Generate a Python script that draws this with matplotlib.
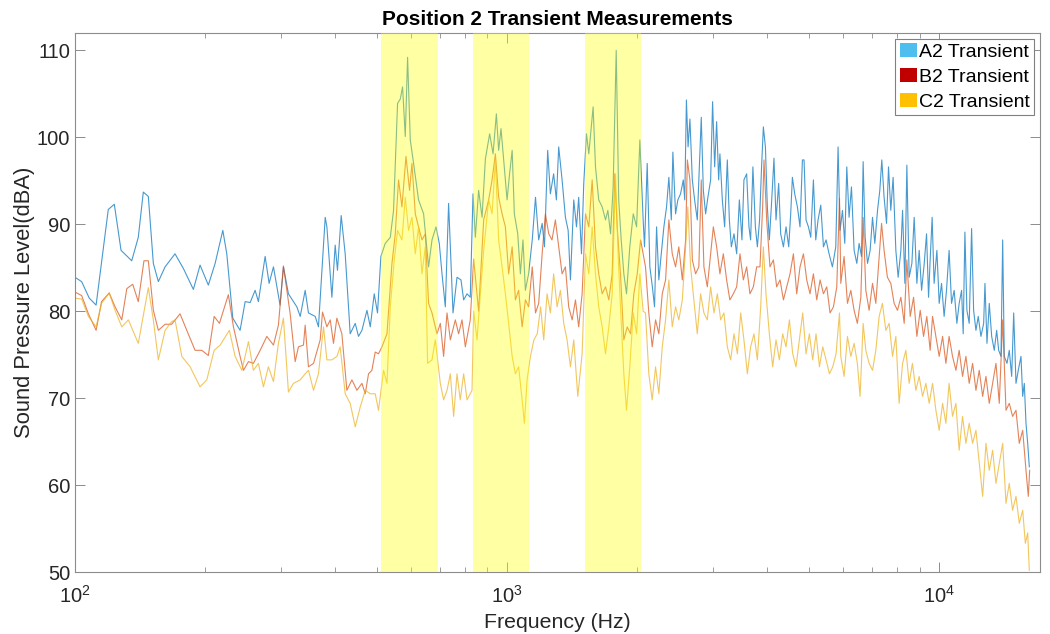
import matplotlib
matplotlib.use("Agg")
import matplotlib.pyplot as plt
from matplotlib.patches import Patch
from matplotlib.ticker import NullLocator

plt.rcParams['font.family'] = ['Liberation Sans', 'DejaVu Sans']
plt.rcParams['mathtext.fontset'] = 'custom'
plt.rcParams['mathtext.rm'] = 'Liberation Sans'
plt.rcParams['mathtext.it'] = 'Liberation Sans:italic'
plt.rcParams['mathtext.bf'] = 'Liberation Sans:bold'
plt.rcParams['mathtext.default'] = 'regular'

# ---------------- data ----------------
title = "Position 2 Transient Measurements"
series_names = ["A2 Transient", "B2 Transient", "C2 Transient"]
highlight_bands_hz = [(510, 690), (832, 1122), (1512, 2040)]

a2_freq = [100, 103.6, 107.9, 111.9, 119.4, 123.3, 127.8, 135.3, 140.1, 143.9,
           147.8, 151.8, 155.9, 161.6, 170.4, 178.2, 187.9, 194.7, 203.5, 211.0,
           219.8, 224.5, 231.8, 241.0, 247.6, 254.3, 261.1, 265.7, 275.4, 281.3,
           287.9, 298.2, 303.6, 311.8, 320.3,
           326.1, 332.0, 340.9, 346.9, 359.6, 365.9, 379.3, 382.7, 393.0, 400.0,
           404.9, 413.0, 421.9, 433.3, 445.1, 452.9, 461.3, 473.8, 482.2, 492.5,
           501.2, 510.3, 522.3, 536.5, 545.9, 557.7, 565.8, 572.8, 581.1, 588.3,
           596.8, 607.4, 623.7, 640.7, 657.9, 670.0, 684.4, 696.6, 706.7, 719.3,
           732.0, 749.4, 765.6, 781.9, 793.1, 807.6, 821.6, 833.7, 844.1, 859.0,
           874.8, 890.4, 910.9,
           927.6, 944.2, 955.7, 967.8, 981.7, 999.6, 1013, 1027, 1039, 1058,
           1073, 1088, 1102, 1121, 1143, 1163, 1183, 1205, 1220, 1241,
           1259, 1281, 1300, 1316, 1340, 1364, 1384, 1401, 1426, 1447,
           1464, 1486, 1504, 1526, 1545, 1581, 1601, 1629, 1659, 1689,
           1710, 1735, 1759, 1788, 1812, 1836, 1862, 1889, 1922, 1958,
           1993, 2028,
           2064, 2079, 2109, 2139, 2168, 2193, 2217, 2244, 2273, 2305,
           2338, 2367, 2398, 2418, 2453, 2483, 2519, 2556, 2576, 2599,
           2622, 2648, 2682, 2715, 2754, 2784, 2813, 2844, 2879, 2914,
           2957, 2988, 3021, 3053, 3086, 3107, 3147, 3186, 3232, 3267,
           3302, 3349, 3397, 3446, 3494, 3531, 3583, 3627, 3659, 3704,
           3753, 3793, 3838, 3879, 3916, 3959, 4000, 4043, 4086, 4144,
           4189, 4249, 4295, 4358, 4419, 4483, 4530, 4571, 4628, 4695,
           4761, 4822, 4864, 4916, 4979, 5041, 5113, 5177, 5241, 5317,
           5394, 5470, 5558, 5657, 5760, 5831, 5894,
           5969, 6043, 6108, 6183, 6262, 6351, 6443, 6523, 6607, 6664,
           6736, 6822, 6917, 7006, 7092, 7195, 7283, 7361, 7451, 7549,
           7629, 7722, 7818, 7933, 8031, 8148, 8222, 8323, 8412, 8516,
           8640, 8747, 8873, 8983, 9099, 9228, 9343, 9443, 9524, 9625,
           9727, 9872, 9994, 10119, 10260, 10391, 10536, 10673, 10823, 10981,
           11116, 11260, 11357, 11461, 11584, 11727, 11878, 12006, 12155, 12305,
           12484, 12665, 12754, 12890, 13050, 13218, 13402, 13575, 13720, 13890,
           14016, 14136, 14341, 14518, 14705, 14863, 15046, 15232, 15452, 15593,
           15728, 15870, 16015, 16153]
a2_spl = [83.9, 83.4, 81.5, 80.7, 91.7, 92.3, 87.0, 85.8, 88.5, 93.7,
          93.2, 85.5, 83.4, 85.1, 86.6, 84.9, 82.5, 85.3, 83.0, 85.5,
          89.3, 86.6, 79.2, 77.8, 81.1, 81.0, 82.4, 81.1, 86.3, 83.2,
          85.1, 80.7, 85.1, 82.0, 81.1,
          80.5, 79.4, 82.4, 79.8, 79.4, 78.2, 90.8, 89.7, 81.6, 87.6,
          84.7, 91.0, 86.6, 77.4, 78.6, 77.1, 77.8, 80.1, 78.2, 82.0,
          79.8, 86.3, 87.8, 88.5, 91.6, 103.9, 104.4, 105.8, 100.1, 109.2,
          99.7, 97.0, 92.8, 91.2, 85.1, 88.2, 89.7, 87.8, 84.3, 80.5,
          92.4, 79.8, 83.9, 83.6, 81.3, 82.0, 81.6, 93.5, 88.5, 93.9,
          90.8, 97.5, 100.4,
          98.1, 102.7, 98.5, 101.0, 97.4, 92.8, 95.8, 98.5, 91.2, 88.9,
          84.3, 88.2, 82.4, 84.3, 88.2, 93.1, 88.2, 90.1, 87.4, 98.5,
          93.5, 95.8, 92.8, 98.9, 95.1, 90.8, 89.3, 83.6, 92.8, 89.7,
          93.1, 86.6, 94.7, 100.4, 98.1, 103.5, 96.6, 92.8, 92.0, 90.5,
          91.6, 88.9, 94.3, 110.0, 92.8, 88.2, 84.3, 82.0, 87.4, 91.2,
          89.7, 99.7,
          90.5, 87.4, 97.0, 85.1, 82.8, 80.5, 89.7, 83.6, 86.6, 89.7,
          92.0, 95.4, 90.5, 98.3, 91.2, 92.8, 93.5, 95.1, 92.8, 104.3,
          98.9, 102.1, 95.1, 92.8, 90.5, 96.6, 102.3, 93.9, 91.2, 93.1,
          95.1, 104.1, 96.6, 101.8, 95.1, 98.1, 92.8, 89.7, 97.4, 90.5,
          87.4, 88.9, 86.6, 92.8, 88.2, 95.1, 95.8, 89.7, 88.2, 96.6,
          89.7, 87.4, 90.5, 96.6, 101.2, 98.9, 92.0, 88.2, 92.0, 97.6,
          90.5, 94.7, 88.9, 87.4, 89.7, 87.4, 91.2, 95.4, 93.5, 92.0,
          89.7, 97.4, 97.4, 90.5, 89.7, 88.5, 95.1, 88.2, 90.5, 92.2,
          87.4, 88.2, 86.6, 85.1, 87.4, 98.9, 89.3,
          91.6, 87.8, 96.6, 90.8, 94.3, 87.0, 85.5, 87.8, 86.3, 97.2,
          88.5, 85.5, 87.0, 90.8, 87.8, 91.6, 93.9, 97.4, 93.1, 90.1,
          96.6, 91.6, 95.4, 87.0, 83.9, 87.0, 91.6, 83.2, 96.8, 83.9,
          85.5, 90.8, 83.2, 87.0, 82.4, 85.5, 88.9, 81.6, 85.9, 90.8,
          83.2, 87.0, 80.9, 83.2, 79.4, 82.4, 87.0, 80.9, 82.4, 78.6,
          80.9, 82.4, 77.4, 89.1, 80.1, 78.6, 89.5, 80.1, 77.8, 79.4,
          77.1, 78.6, 83.2, 76.3, 80.9, 77.1, 75.5, 77.8, 75.5, 74.8,
          88.2, 74.8, 74.0, 75.5, 72.5, 79.8, 71.7, 73.2, 74.8, 70.2,
          71.7, 67.1, 64.8, 62.1]

b2_freq = [100, 103.6, 107.4, 111.9, 115.2, 120.0, 123.8, 128.3, 131.8, 136.0,
           140.1, 144.4, 147.8, 151.8, 155.9, 161.6, 167.4, 175.0, 181.4, 189.6,
           196.5, 203.5, 209.9, 215.9, 226.4, 232.6, 241.0, 245.4, 252.0, 258.7,
           268.2, 277.9, 287.9, 295.6, 303.6, 314.7, 323.2, 328.9,
           337.8, 340.9, 346.9, 356.4, 369.3, 373.9, 382.7, 389.6, 396.4, 403.6,
           414.5, 425.7, 437.3, 449.1, 461.3, 469.5, 477.8, 486.4, 495.1, 503.8,
           513.2, 527.1, 541.3, 550.9, 560.6, 570.9, 583.3, 594.5, 602.2, 612.9,
           623.7, 635.2, 646.5, 657.9, 670.0, 688.1, 700.4, 712.8, 725.9, 738.8,
           758.7, 772.1, 786.3, 800.3, 821.6, 836.5, 859.0, 882.4, 906.1, 922.8,
           939.2, 955.7, 973.3, 990.6, 1008, 1027, 1045, 1063, 1083, 1102,
           1121, 1143, 1163, 1183, 1205, 1226, 1248, 1270, 1293, 1316,
           1340, 1364, 1388, 1414, 1439, 1464, 1491, 1518, 1545, 1573,
           1601, 1629, 1659, 1689, 1719, 1750, 1774, 1797, 1829, 1862,
           1896, 1930, 1964, 2000, 2036,
           2090, 2127, 2166, 2205, 2244, 2285, 2326, 2367, 2410, 2453,
           2496, 2543, 2588, 2612, 2648, 2682, 2729, 2777, 2813, 2853,
           2905, 2957, 3000, 3053, 3107, 3164, 3220, 3276, 3337, 3397,
           3457, 3520, 3583, 3646, 3713, 3779, 3846, 3901, 3929, 3986,
           4056, 4131, 4204, 4280, 4358, 4435, 4514, 4596, 4678, 4761,
           4848, 4934, 5021, 5113, 5205, 5298, 5394, 5490, 5587, 5689,
           5791, 5875,
           5916, 6021, 6130, 6241, 6351, 6462, 6583, 6664, 6760, 6880,
           7006, 7130, 7257, 7351, 7451, 7584, 7722, 7861, 8002, 8148,
           8294, 8412, 8563, 8719, 8873, 9032, 9195, 9356, 9524, 9646,
           9819, 9994, 10177, 10357, 10536, 10730, 10925, 11116, 11318, 11523,
           11727, 11941, 12155, 12371, 12598, 12821, 13050, 13285, 13524, 13765,
           14016, 14265, 14518, 14777, 15046, 15313, 15593, 15870, 16066, 16185]
b2_spl = [82.2, 81.8, 79.7, 77.8, 81.1, 82.1, 80.5, 79.0, 82.6, 83.1,
          81.1, 85.8, 85.8, 80.1, 77.8, 78.5, 78.5, 79.7, 77.8, 75.5,
          75.5, 74.9, 79.4, 78.6, 81.9, 78.2, 74.8, 73.2, 74.2, 74.0,
          75.5, 77.1, 76.1, 78.4, 85.2, 79.7, 74.2, 75.9,
          76.1, 78.4, 73.6, 74.0, 76.7, 79.9, 78.2, 79.0, 76.3, 79.2,
          77.4, 70.9, 72.1, 70.9, 71.7, 70.5, 72.8, 73.2, 75.3, 75.1,
          75.9, 77.4, 85.5, 88.9, 95.1, 92.0, 97.8, 93.9, 97.0, 91.2,
          89.7, 88.2, 88.9, 80.9, 79.8, 77.4, 78.6, 74.8, 79.8, 76.7,
          79.0, 77.4, 79.0, 75.9, 79.0, 86.0, 80.0, 90.5, 92.8, 95.1,
          98.1, 93.1, 91.2, 89.7, 84.3, 87.4, 81.3, 82.4, 78.2, 81.3,
          80.5, 85.1, 79.8, 80.9, 86.6, 91.2, 88.9, 88.2, 90.5, 87.4,
          84.3, 85.1, 80.5, 79.0, 81.3, 78.2, 82.0, 91.2, 89.7, 95.1,
          87.4, 84.3, 82.0, 82.8, 81.3, 84.3, 95.8, 89.7, 84.3, 76.7,
          78.2, 77.4, 82.0, 84.3, 88.2,
          85.1, 79.8, 75.9, 79.0, 77.4, 82.0, 83.6, 90.5, 86.6, 85.1,
          87.4, 83.6, 88.2, 97.4, 95.1, 85.9, 84.3, 85.1, 95.1, 85.1,
          82.8, 86.6, 89.7, 87.4, 84.3, 86.6, 83.6, 81.3, 82.0, 82.8,
          86.6, 83.6, 85.1, 82.0, 82.8, 85.1, 85.1, 92.0, 97.4, 90.5,
          85.1, 85.9, 82.8, 83.6, 81.3, 82.8, 84.3, 86.6, 82.0, 85.1,
          86.6, 83.6, 82.0, 84.3, 81.3, 83.6, 82.0, 82.8, 79.8, 80.5,
          82.8, 93.0,
          83.2, 86.3, 80.9, 82.4, 80.1, 78.6, 81.6, 90.8, 82.4, 80.1,
          83.2, 80.9, 86.3, 90.1, 87.0, 83.9, 83.2, 80.9, 80.1, 81.6,
          78.6, 85.9, 79.4, 81.6, 77.1, 80.1, 77.1, 79.4, 75.5, 79.4,
          77.1, 74.8, 77.1, 74.0, 77.1, 74.8, 73.2, 75.5, 72.5, 74.8,
          71.7, 74.0, 70.9, 73.2, 70.2, 72.5, 69.4, 71.7, 74.0, 69.4,
          79.0, 68.6, 69.4, 67.9, 68.6, 64.8, 66.3, 61.7, 58.7, 61.7]

c2_freq = [100, 103.6, 107.4, 111.9, 115.2, 120.0, 123.8, 128.3, 132.9, 140.1,
           147.8, 151.8, 155.9, 161.6, 167.4, 170.4, 176.7, 184.7, 194.7, 201.8,
           209.9, 216.7, 227.6, 234.7, 243.3, 252.0, 258.7, 265.7, 272.9, 280.2,
           287.9, 295.6, 303.6, 311.8, 320.3,
           332.0, 340.9, 346.9, 356.4, 365.9,
           375.9, 382.7, 393.0, 403.6, 410.8, 421.9, 433.3, 445.1, 457.2, 469.5,
           482.2, 495.1, 503.8, 517.6, 527.1, 536.5, 548.0, 557.7, 570.9, 581.1,
           591.3, 602.2, 612.9, 623.7, 635.2, 646.5, 654.5, 670.0, 681.9, 700.4,
           712.8, 725.9, 738.8, 751.9, 765.6, 778.9, 793.1, 807.6, 829.3, 836.5,
           851.8, 867.0, 882.4, 906.1, 922.8, 939.2, 955.7, 973.3, 990.6, 1008,
           1027, 1045, 1063, 1083, 1096, 1112, 1132, 1153, 1174, 1195,
           1215, 1237, 1259, 1281, 1305, 1328, 1352, 1376, 1401, 1426,
           1457, 1491, 1518, 1545, 1573, 1601, 1629, 1659, 1689, 1719,
           1750, 1781, 1807, 1829, 1862, 1889, 1922, 1958, 1993, 2028,
           2064,
           2090, 2127, 2166, 2205, 2244, 2285, 2326, 2367, 2410, 2453,
           2496, 2543, 2588, 2618, 2658, 2704, 2754, 2803, 2853, 2905,
           2957, 3010, 3065, 3119, 3174, 3232, 3290, 3349, 3410, 3471,
           3531, 3596, 3659, 3725, 3793, 3861, 3916, 3971, 4043, 4115,
           4189, 4265, 4341, 4419, 4499, 4579, 4660, 4745, 4830, 4916,
           5005, 5094, 5185, 5280, 5374, 5470, 5569, 5668, 5769, 5875,
           5916, 6021, 6130, 6241, 6351, 6462, 6556, 6664, 6760, 6880,
           7006, 7130, 7257, 7385, 7521, 7655, 7794, 7933, 8074, 8222,
           8367, 8516, 8665, 8826, 8983, 9146, 9309, 9475, 9646, 9819,
           9994, 10177, 10357, 10536, 10730, 10925, 11116, 11318, 11523, 11727,
           11941, 12155, 12371, 12598, 12821, 13050, 13285, 13524, 13765, 14016,
           14265, 14518, 14777, 15046, 15313, 15593, 15815, 16015, 16153]
c2_spl = [81.5, 81.4, 79.4, 78.2, 80.9, 82.1, 80.1, 78.2, 79.0, 76.3,
          82.7, 79.0, 74.4, 77.8, 78.8, 79.0, 74.8, 73.6, 71.3, 72.1,
          75.5, 76.1, 77.8, 74.8, 73.2, 76.5, 73.2, 74.0, 71.3, 73.6,
          71.9, 76.3, 79.2, 70.7, 71.7,
          72.1, 72.8, 73.2, 70.9, 72.8,
          78.2, 74.4, 74.4, 74.8, 75.9, 70.5, 69.4, 66.7, 69.0, 70.9,
          70.5, 70.5, 68.6, 73.2, 71.7, 80.5, 85.9, 89.3, 88.2, 93.1,
          89.3, 90.8, 86.6, 89.7, 84.3, 87.4, 74.0, 74.4, 76.7, 71.7,
          69.8, 70.9, 72.8, 67.9, 72.8, 69.8, 72.8, 69.8, 70.9, 80.0,
          76.7, 82.0, 87.0, 92.8, 91.2, 97.4, 88.2, 85.1, 82.0, 78.6,
          74.8, 72.8, 73.6, 69.8, 67.1, 72.1, 74.8, 76.7, 77.4, 80.5,
          76.7, 82.0, 79.8, 84.3, 80.5, 82.4, 78.6, 76.7, 73.6, 76.7,
          70.2, 75.1, 86.6, 84.3, 89.7, 84.3, 80.5, 78.2, 75.1, 78.2,
          82.0, 95.8, 86.3, 80.5, 72.8, 68.6, 73.6, 79.8, 77.4, 84.3,
          80.0,
          79.8, 72.8, 69.8, 73.6, 70.5, 75.9, 79.0, 83.6, 78.2, 80.5,
          79.0, 81.3, 87.4, 92.0, 85.1, 81.3, 77.4, 82.0, 79.8, 79.0,
          82.8, 79.8, 82.0, 79.0, 79.8, 75.9, 74.4, 77.4, 75.1, 79.8,
          76.7, 72.8, 75.9, 77.4, 74.4, 80.5, 87.4, 82.0, 77.4, 73.6,
          76.7, 74.4, 77.4, 75.9, 79.0, 75.1, 73.6, 76.7, 79.8, 75.1,
          77.4, 74.4, 77.4, 73.6, 75.9, 74.4, 72.8, 73.6, 75.1, 79.8,
          74.8, 72.5, 77.1, 74.8, 76.3, 74.0, 70.2, 78.6, 75.5, 74.0,
          73.2, 75.5, 79.4, 80.9, 77.8, 78.6, 74.8, 77.1, 69.4, 74.0,
          75.5, 71.7, 74.0, 70.9, 72.5, 70.2, 71.7, 69.4, 71.7, 68.6,
          66.3, 69.4, 67.1, 71.7, 67.9, 69.4, 64.0, 67.9, 64.8, 67.1,
          64.8, 66.3, 62.5, 58.7, 64.8, 61.7, 64.0, 60.2, 62.5, 64.8,
          57.9, 60.2, 57.1, 58.7, 55.6, 57.1, 53.3, 54.5, 50.2]

line_colors = ['#0072BD', '#D95319', '#EDB120']
legend_colors = ['#4DBEEE', '#C00000', '#FFC000']

for nm, f, s in (("A2", a2_freq, a2_spl), ("B2", b2_freq, b2_spl), ("C2", c2_freq, c2_spl)):
    if len(f) != len(s):
        raise ValueError(f"{nm}: {len(f)} freqs vs {len(s)} values")

# ---------------- figure ----------------
W, H = 1050, 634
fig = plt.figure(figsize=(W / 100, H / 100), dpi=100)
ax = fig.add_axes([75 / W, 62 / H, 965 / W, 539 / H])

for f, s, c in zip((a2_freq, b2_freq, c2_freq), (a2_spl, b2_spl, c2_spl), line_colors):
    ax.plot(f, s, color=c, lw=0.8, alpha=0.72, zorder=2)

for lo, hi in highlight_bands_hz:
    ax.axvspan(lo, hi, facecolor='#FFFF00', alpha=0.36, lw=0, zorder=3)

ax.set_xscale('log')
ax.set_xlim(100, 17100)
ax.set_ylim(50, 112)
ax.set_yticks([50, 60, 70, 80, 90, 100, 110])
ax.yaxis.set_minor_locator(NullLocator())

spine_c = '#8c8c8c'
for sp in ax.spines.values():
    sp.set_color(spine_c)
    sp.set_linewidth(0.8)
ax.tick_params(which='both', direction='in', top=True, right=True,
               color=spine_c, labelcolor='#262626', labelsize=14.5)
ax.tick_params(which='major', length=7, width=0.7)
ax.tick_params(which='minor', length=3.5, width=0.6)
ax.tick_params(axis='x', which='both', pad=9)

ax.set_xlabel('Frequency (Hz)', fontsize=15.3, color='#262626', labelpad=5)
ax.set_ylabel('Sound Pressure Level(dBA)', fontsize=15.8, color='#262626', labelpad=1)
ax.set_title(title, fontsize=15, fontweight='bold', color='black', pad=6)

handles = [Patch(facecolor=c, edgecolor='none', label=n) for c, n in zip(legend_colors, series_names)]
leg = ax.legend(handles=handles, loc='upper right', fontsize=14, frameon=True, fancybox=False,
                edgecolor='#808080', framealpha=1, borderaxespad=0.3, handlelength=0.9,
                handleheight=0.7, handletextpad=0.1, labelspacing=0.38, borderpad=0.22)
leg.get_frame().set_linewidth(0.8)
leg.set_zorder(5)

fig.savefig('out.png', dpi=100)
